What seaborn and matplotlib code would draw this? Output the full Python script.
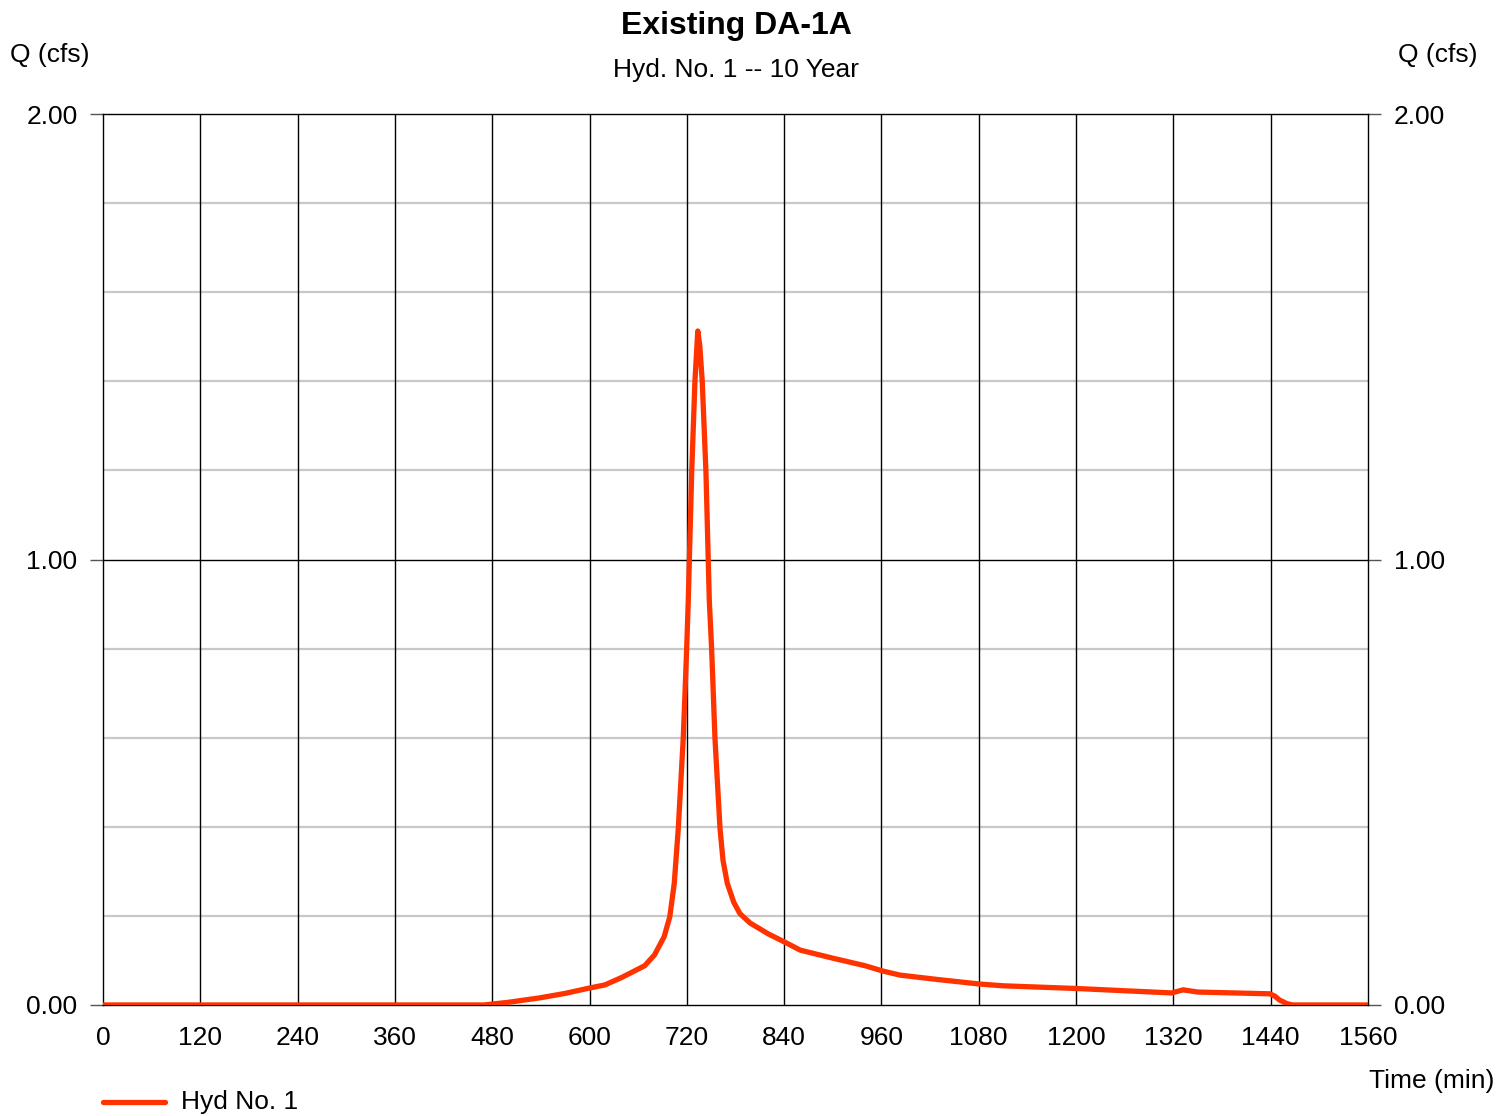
import numpy as np
import pandas as pd
import matplotlib
matplotlib.use("Agg")
import matplotlib.pyplot as plt
import seaborn as sns

# 读图估计的流量过程线数据
time_min = [0, 120, 240, 360, 470, 480, 500, 539, 570, 600, 619, 640, 668, 680, 692, 699,
            704.5, 709.5, 715.6, 719.8, 721.8, 726, 730, 733.5, 736, 739, 743.6, 747.7, 750.6,
            754.7, 760.9, 764.6, 769.9, 778, 785.5, 798, 820, 843, 860, 900, 940, 962, 983,
            1030, 1081, 1110, 1200, 1318, 1332, 1350, 1439, 1445, 1451, 1460, 1467, 1500, 1560]
flow_cfs = [0, 0, 0, 0, 0, 0.002, 0.006, 0.016, 0.026, 0.038, 0.045, 0.062, 0.088, 0.112, 0.153, 0.198,
            0.273, 0.397, 0.599, 0.799, 0.909, 1.196, 1.40, 1.513, 1.48, 1.40, 1.196, 0.909, 0.799,
            0.599, 0.397, 0.325, 0.273, 0.23, 0.205, 0.184, 0.16, 0.139, 0.123, 0.105, 0.088, 0.076, 0.067,
            0.057, 0.047, 0.043, 0.037, 0.027, 0.034, 0.029, 0.025, 0.020, 0.011, 0.003, 0, 0, 0]

df = pd.DataFrame({"time": time_min, "Q": flow_cfs, "name": "Hyd No. 1"})

x_ticks = list(range(0, 1561, 120))
y_major = [0.0, 1.0, 2.0]
y_minor = [0.2, 0.4, 0.6, 0.8, 1.2, 1.4, 1.6, 1.8]

sns.set_style("white")
plt.rcParams["font.family"] = ["Liberation Sans", "DejaVu Sans"]
plt.rcParams["text.color"] = "black"
plt.rcParams["xtick.color"] = "black"
plt.rcParams["ytick.color"] = "black"

fig = plt.figure(figsize=(14.97, 11.16), dpi=100)
ax = fig.add_axes([0.0688, 0.0995, 0.845, 0.7983])

# 网格线
for v in y_minor:
    ax.axhline(v, color="#c8c8c8", lw=1.6, zorder=1)
ax.axhline(1.0, color="black", lw=1.0, zorder=1)
for t in x_ticks[1:-1]:
    ax.axvline(t, color="black", lw=1.0, zorder=1)

sns.lineplot(data=df, x="time", y="Q", hue="name", palette=["#ff3300"],
             linewidth=3.8, ax=ax, legend=False, zorder=3)

ax.set_xlim(0, 1560)
ax.set_ylim(0, 2.0)
ax.set_xticks(x_ticks)
ax.set_xticklabels([str(t) for t in x_ticks], fontsize=19)
ax.set_yticks(y_major)
ax.set_yticklabels([f"{v:.2f}" for v in y_major], fontsize=19)
ax.tick_params(axis="x", length=0, pad=15, labelcolor="black")
ax.tick_params(axis="y", length=9.4, width=1, color="#555555", pad=9, labelcolor="black",
               left=True, right=True, labelleft=True, labelright=True)
ax.set_xlabel("")
ax.set_ylabel("")
for s in ax.spines.values():
    s.set_color("black")
    s.set_linewidth(1.0)

fig.text(0.4917, 0.977, "Existing DA-1A", ha="center", va="center", fontsize=23, fontweight="bold")
fig.text(0.4917, 0.937, "Hyd. No. 1 -- 10 Year", ha="center", va="center", fontsize=19)
fig.text(0.0067, 0.951, "Q (cfs)", ha="left", va="center", fontsize=19)
fig.text(0.9873, 0.951, "Q (cfs)", ha="right", va="center", fontsize=19)
fig.text(0.998, 0.0315, "Time (min)", ha="right", va="center", fontsize=19)

# 图例
fig.lines.append(plt.Line2D([0.069, 0.110], [0.0125, 0.0125], color="#ff3300", lw=3.8,
                            transform=fig.transFigure, solid_capstyle="round"))
fig.text(0.121, 0.0125, "Hyd No. 1", ha="left", va="center", fontsize=19)

fig.savefig("out.png", dpi=100)
